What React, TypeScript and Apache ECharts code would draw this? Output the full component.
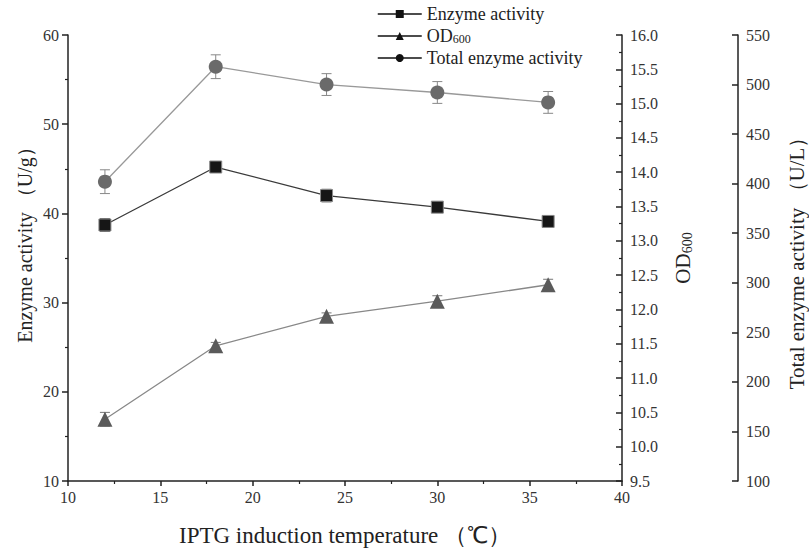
import React, { useEffect, useRef } from "react";
import * as echarts from "echarts";

const temperatures = [12, 18, 24, 30, 36];
const enzymeActivity = [38.7, 45.2, 42.0, 40.7, 39.1];
const enzymeErr = [0.7, 0.5, 0.7, 0.4, 0.6];
const od600 = [10.4, 11.47, 11.9, 12.12, 12.36];
const odErr = [0.1, 0.05, 0.05, 0.08, 0.08];
const totalActivity = [402, 518, 500, 492, 482];
const totalErr = [12, 12, 11, 11, 11];

const xTicks = { min: 10, max: 40, interval: 5 };
const leftTicks = { min: 10, max: 60, interval: 10 };
const odTicks = { min: 9.5, max: 16, interval: 0.5 };
const totalTicks = { min: 100, max: 550, interval: 50 };

const leftTitle = "Enzyme activity （U/g）";

const FONT = "'Liberation Serif', 'Times New Roman', serif";

function errorSeries(vals: number[], errs: number[], yAxisIndex: number, color: string) {
  return {
    type: "custom",
    yAxisIndex,
    z: 1,
    silent: true,
    data: temperatures.map((t, i) => [t, vals[i] - errs[i], vals[i] + errs[i]]),
    renderItem: (params: any, api: any) => {
      const x = api.value(0);
      const lo = api.coord([x, api.value(1)]);
      const hi = api.coord([x, api.value(2)]);
      const w = 5;
      const style = { stroke: color, lineWidth: 1 };
      return {
        type: "group",
        children: [
          { type: "line", shape: { x1: lo[0], y1: lo[1], x2: hi[0], y2: hi[1] }, style },
          { type: "line", shape: { x1: lo[0] - w, y1: lo[1], x2: lo[0] + w, y2: lo[1] }, style },
          { type: "line", shape: { x1: hi[0] - w, y1: hi[1], x2: hi[0] + w, y2: hi[1] }, style },
        ],
      };
    },
  };
}

export default function App() {
  const ref = useRef<HTMLDivElement>(null);
  useEffect(() => {
    document.body.style.margin = "0";
    if (!ref.current) return;
    const chart = echarts.init(ref.current, null, { renderer: "svg" });
    const axisLine = { show: true, lineStyle: { color: "#222", width: 1.5 } };
    const labelStyle = { fontFamily: FONT, fontSize: 16, color: "#333" };
    const titleStyle = { fontFamily: FONT, fontSize: 21, color: "#222" };
    chart.setOption({
      animation: false,
      backgroundColor: "#fff",
      textStyle: { fontFamily: FONT },
      graphic: [
        {
          type: "text",
          x: 25,
          y: 240,
          rotation: Math.PI / 2,
          style: {
            text: leftTitle,
            fontFamily: FONT,
            fontSize: 20,
            fill: "#222",
            align: "center",
            verticalAlign: "middle",
          },
        },
      ],
      legend: {
        orient: "vertical",
        left: 372,
        top: 0,
        itemGap: 4,
        itemWidth: 44,
        itemHeight: 10,
        data: ["Enzyme activity", "OD600", "Total enzyme activity"],
        itemStyle: { color: "#111", borderWidth: 0 },
        lineStyle: { color: "#111", width: 1.5 },
        formatter: (name: string) =>
          name === "OD600" ? "{n|OD}{s|600}" : "{n|" + name + "}",
        textStyle: {
          fontFamily: FONT,
          fontSize: 18,
          color: "#222",
          rich: {
            n: { fontFamily: FONT, fontSize: 18, color: "#222", lineHeight: 18 },
            s: { fontFamily: FONT, fontSize: 12, color: "#222", lineHeight: 18, verticalAlign: "bottom", padding: [6, 0, 0, 0] },
          },
        },
      },
      grid: { left: 68, right: 187, top: 35, bottom: 69, containLabel: false, outerBoundsMode: "none" },
      xAxis: {
        type: "value",
        min: xTicks.min,
        max: xTicks.max,
        interval: xTicks.interval,
        name: "IPTG induction temperature （℃）",
        nameLocation: "middle",
        nameGap: 43,
        nameTextStyle: { ...titleStyle, fontSize: 23 },
        axisLine,
        axisTick: { show: true, length: 5, lineStyle: { color: "#222", width: 1.5 } },
        minorTick: { show: true, splitNumber: 2, length: 3, lineStyle: { color: "#222", width: 1.2 } },
        axisLabel: { ...labelStyle, margin: 8 },
        splitLine: { show: false },
      },
      yAxis: [
        {
          type: "value",
          position: "left",
          min: leftTicks.min,
          max: leftTicks.max,
          interval: leftTicks.interval,
          axisLine,
          axisTick: { show: true, length: 6, lineStyle: { color: "#222", width: 1.5 } },
          minorTick: { show: true, splitNumber: 2, length: 3, lineStyle: { color: "#222", width: 1.2 } },
          axisLabel: { ...labelStyle, margin: 9 },
          splitLine: { show: false },
        },
        {
          type: "value",
          position: "right",
          min: odTicks.min,
          max: odTicks.max,
          interval: odTicks.interval,
          name: "{n|OD}{s|600}",
          nameLocation: "middle",
          nameGap: 50,
          nameTextStyle: {
            ...titleStyle,
            rich: {
              n: { fontFamily: FONT, fontSize: 21, color: "#222", lineHeight: 22 },
              s: { fontFamily: FONT, fontSize: 14, color: "#222", lineHeight: 22, verticalAlign: "bottom", padding: [8, 0, 0, 0] },
            },
          },
          axisLine,
          axisTick: { show: true, inside: true, length: 6, lineStyle: { color: "#222", width: 1.5 } },
          minorTick: { show: true, splitNumber: 2, length: 3, lineStyle: { color: "#222", width: 1.2 } },
          axisLabel: { ...labelStyle, margin: 8, formatter: (v: number) => v.toFixed(1) },
          splitLine: { show: false },
        },
        {
          type: "value",
          position: "right",
          offset: 116,
          min: totalTicks.min,
          max: totalTicks.max,
          interval: totalTicks.interval,
          name: "Total enzyme activity （U/L）",
          nameLocation: "middle",
          nameGap: 48,
          nameTextStyle: titleStyle,
          axisLine,
          axisTick: { show: true, inside: true, length: 6, lineStyle: { color: "#222", width: 1.5 } },
          axisLabel: { ...labelStyle, margin: 8 },
          splitLine: { show: false },
        },
      ],
      series: [
        errorSeries(enzymeActivity, enzymeErr, 0, "#333"),
        errorSeries(od600, odErr, 1, "#777"),
        errorSeries(totalActivity, totalErr, 2, "#888"),
        {
          name: "Enzyme activity",
          type: "line",
          yAxisIndex: 0,
          z: 3,
          data: temperatures.map((t, i) => [t, enzymeActivity[i]]),
          symbol: "rect",
          symbolSize: 12,
          lineStyle: { color: "#3a3a3a", width: 1.3 },
          itemStyle: { color: "#161616", borderColor: "#888", borderWidth: 1 },
        },
        {
          name: "OD600",
          type: "line",
          yAxisIndex: 1,
          z: 3,
          data: temperatures.map((t, i) => [t, od600[i]]),
          symbol: "triangle",
          symbolSize: 15,
          lineStyle: { color: "#888", width: 1.3 },
          itemStyle: { color: "#5a5a5a" },
        },
        {
          name: "Total enzyme activity",
          type: "line",
          yAxisIndex: 2,
          z: 3,
          data: temperatures.map((t, i) => [t, totalActivity[i]]),
          symbol: "circle",
          symbolSize: 14,
          lineStyle: { color: "#999", width: 1.3 },
          itemStyle: { color: "#6a6a6a" },
        },
      ],
    });
    return () => chart.dispose();
  }, []);
  return (
    <div
      ref={ref}
      style={{ position: "absolute", left: 0, top: 0, width: 809, height: 550 }}
    />
  );
}
